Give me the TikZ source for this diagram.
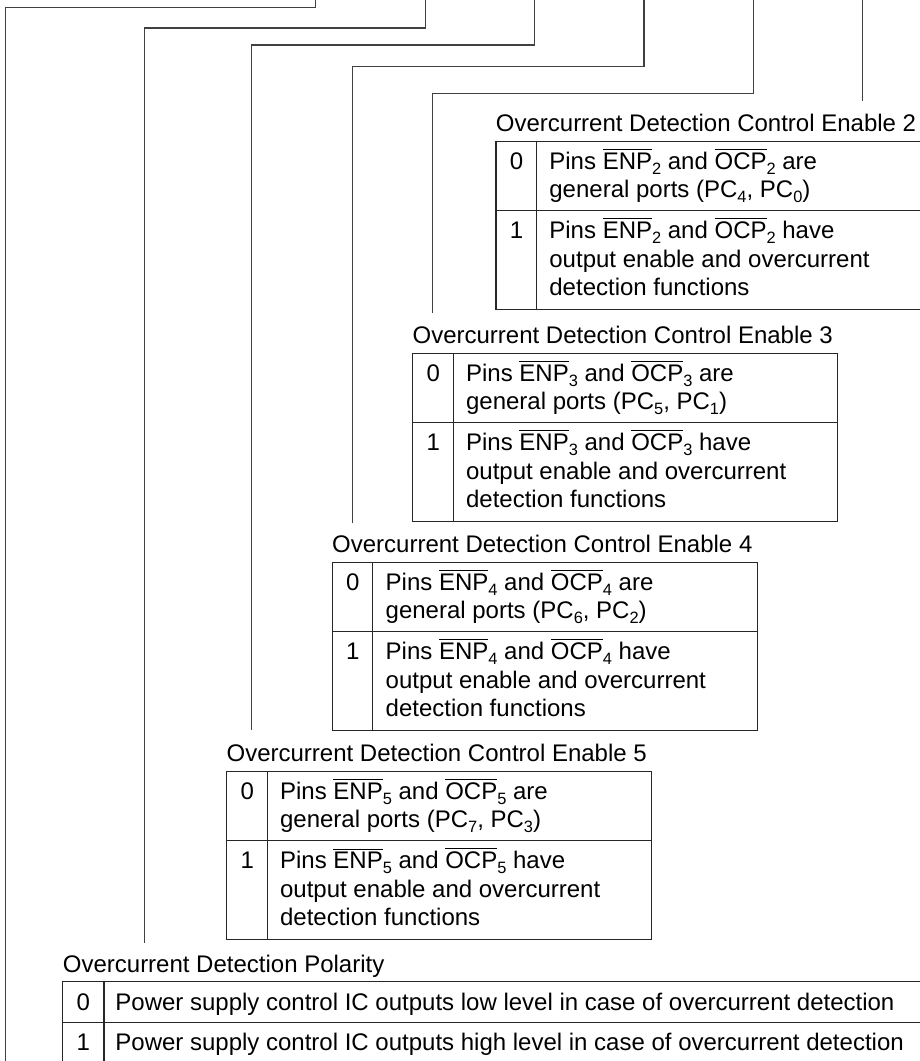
\documentclass[tikz,border=0pt]{standalone}
\usepackage{fontspec}
\setmainfont{Liberation Sans}
\newcommand{\ovl}[1]{$\overline{\mbox{#1}}$}
\newcommand{\subs}[1]{\raisebox{-2.5pt}{\fontsize{8.2}{9}\selectfont #1}}
\begin{document}
\begin{tikzpicture}[x=0.5pt, y=-0.5pt,
    every node/.style={inner sep=0pt, anchor=base west, font=\fontsize{12}{14}\selectfont},
    leader/.style={draw=black!75, line width=0.55pt},
    tablebox/.style={draw=black!85, line width=0.65pt},
    bitval/.style={anchor=base}]
  \useasboundingbox (0,0) rectangle (920,1061);

  % leader lines, drawn from the top edge
  \coordinate (sA) at (315.7,-5);  \coordinate (eA) at (5.7,1070);
  \coordinate (sB) at (425.3,-5);  \coordinate (eB) at (144.5,943.3);
  \coordinate (sC) at (534.3,-5);  \coordinate (eC) at (251.7,730);
  \coordinate (sD) at (644,-5);    \coordinate (eD) at (352.7,523);
  \coordinate (sE) at (753.3,-5);  \coordinate (eE) at (432.7,313);
  \coordinate (sF) at (862.3,-5);  \coordinate (eF) at (862.3,101);
  \draw[leader] (sA) |- (5.7,7.5) -- (eA);
  \draw[leader] (sB) |- (144.5,28) -- (eB);
  \draw[leader] (sC) |- (251.7,45) -- (eC);
  \draw[leader] (sD) |- (352.7,66.7) -- (eD);
  \draw[leader] (sE) |- (432.7,93.7) -- (eE);
  \draw[leader] (sF) -- (eF);

  % enable tables 2..5
  \foreach \n/\lx/\ty/\pa/\pb in {2/496/141.7/4/0, 3/412.7/353.5/5/1,
                                  4/332.3/562.7/6/2, 5/226.7/771.7/7/3} {
    \node (title\n) at (\lx-0.5,\ty-10.5) {Overcurrent Detection Control Enable \n};
    \draw[tablebox] (\lx,\ty) rectangle ++(425,168);
    \draw[tablebox] (\lx+40.5,\ty) -- ++(0,168);
    \draw[tablebox] (\lx,\ty+69) -- ++(425,0);
    \node[bitval] (v\n a) at (\lx+20.5,\ty+27.5) {0};
    \node[bitval] (v\n b) at (\lx+20.5,\ty+96.5) {1};
    \node (r\n a1) at (\lx+53,\ty+27.5)
      {Pins \ovl{ENP}\subs{\n} and \ovl{OCP}\subs{\n} are};
    \node (r\n a2) at (\lx+53,\ty+55.5)
      {general ports (PC\subs{\pa}, PC\subs{\pb})};
    \node (r\n b1) at (\lx+53,\ty+96.5)
      {Pins \ovl{ENP}\subs{\n} and \ovl{OCP}\subs{\n} have};
    \node (r\n b2) at (\lx+53,\ty+125.5) {output enable and overcurrent};
    \node (r\n b3) at (\lx+53,\ty+154) {detection functions};
  }

  % polarity table
  \node (title6) at (62.5,972.5) {Overcurrent Detection Polarity};
  \draw[tablebox] (62.7,981.7) rectangle (930,1064);
  \draw[tablebox] (104,981.7) -- (104,1064);
  \draw[tablebox] (62.7,1022.7) -- (930,1022.7);
  \node[bitval] (v6a) at (83.3,1010) {0};
  \node[bitval] (v6b) at (83.3,1050.5) {1};
  \node (r6a) at (115,1010)
    {Power supply control IC outputs low level in case of overcurrent detection};
  \node (r6b) at (115,1050.5)
    {Power supply control IC outputs high level in case of overcurrent detection};
\end{tikzpicture}
\end{document}
